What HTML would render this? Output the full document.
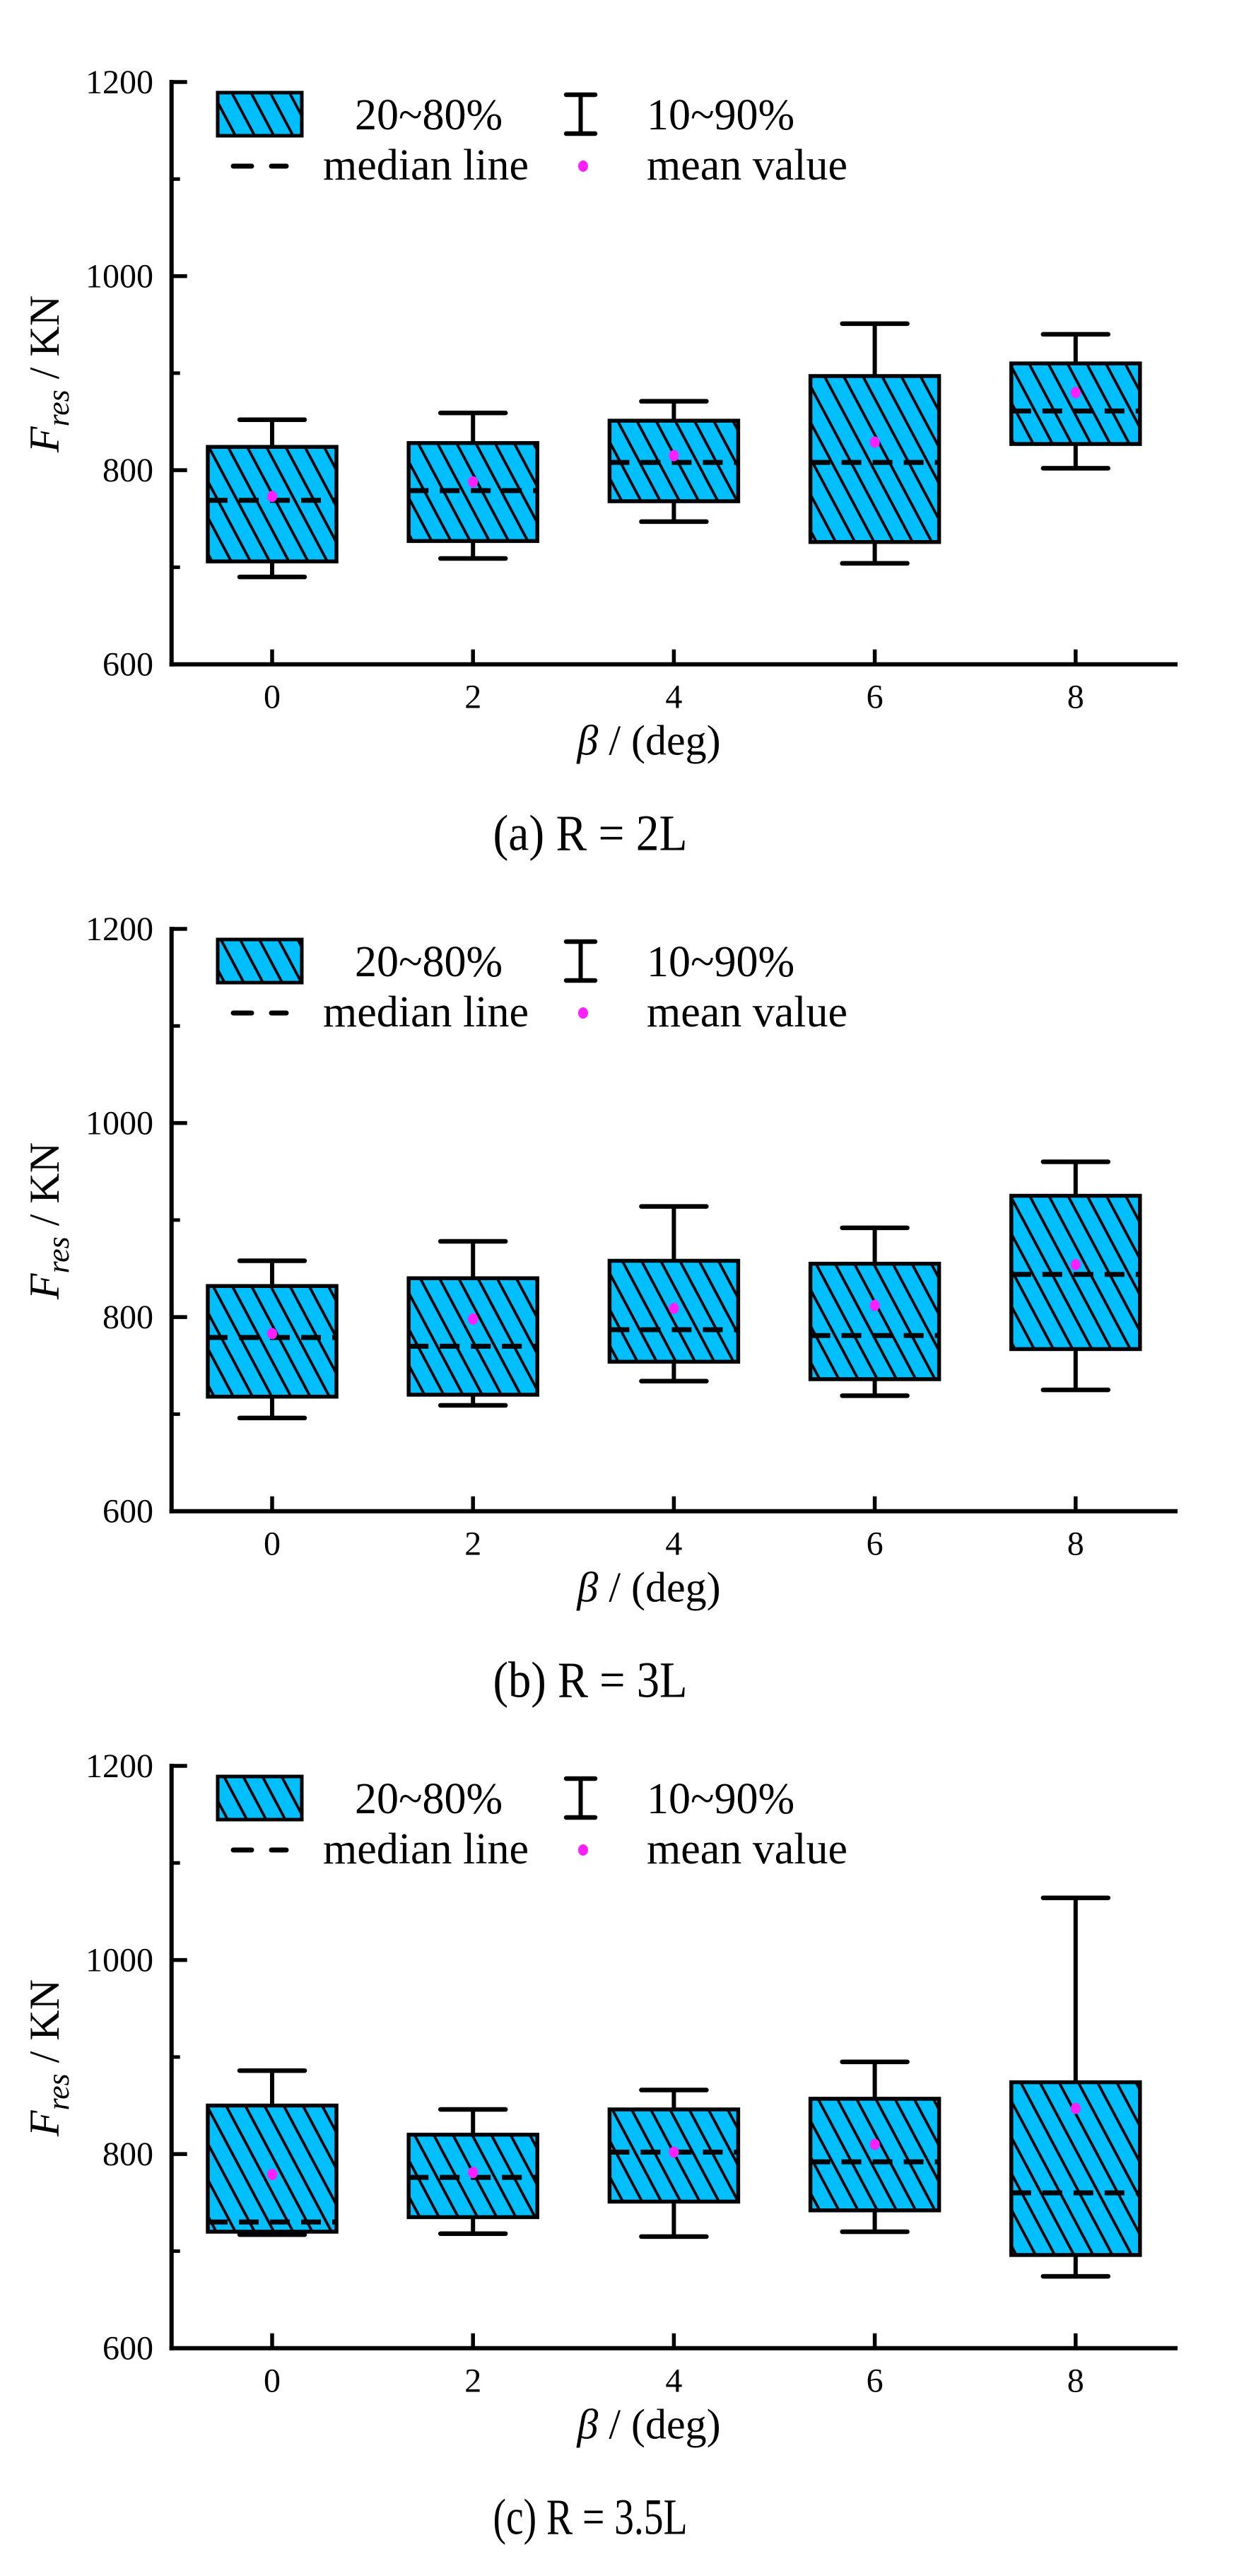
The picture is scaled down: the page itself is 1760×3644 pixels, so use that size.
<!DOCTYPE html>
<html><head><meta charset="utf-8"><style>
html,body{margin:0;padding:0;background:#fff;}
svg{display:block;font-family:"Liberation Serif","DejaVu Serif",serif;}
</style></head>
<body>
<svg id="chart" width="1760" height="3644" viewBox="0 0 1760 3644" xmlns="http://www.w3.org/2000/svg">
<defs>
<pattern id="hatch" patternUnits="userSpaceOnUse" width="24" height="24" patternTransform="rotate(-28)">
<rect width="24" height="24" fill="#00BFFF"/>
<line x1="12" y1="0" x2="12" y2="24" stroke="#000" stroke-width="3.8"/>
</pattern>
</defs>
</svg>
<script>
const categories = [0, 2, 4, 6, 8];
const yTicks = [600, 800, 1000, 1200];
const yMinor = [700, 900, 1100];
const captions = ["(a) R = 2L", "(b) R = 3L", "(c) R = 3.5L"];
// panel a
const aP10 = [690, 709, 747, 704, 802];
const aP20 = [706, 727, 768, 726, 827];
const aMed = [769, 779, 808, 808, 861];
const aP80 = [824, 828, 851, 897, 910];
const aP90 = [852, 859, 871, 951, 940];
const aMean = [773, 788, 815, 829, 880];
// panel b
const bP10 = [696, 709, 734, 719, 725];
const bP20 = [718, 720, 754, 736, 767];
const bMed = [779, 770, 787, 781, 844];
const bP80 = [832, 840, 858, 855, 925];
const bP90 = [858, 878, 914, 892, 960];
const bMean = [783, 798, 809, 812, 854];
// panel c
const cP10 = [717, 718, 715, 720, 674];
const cP20 = [720, 735, 751, 742, 696];
const cMed = [730, 776, 802, 792, 760];
const cP80 = [850, 820, 846, 857, 874];
const cP90 = [886, 846, 866, 895, 1064];
const cMean = [779, 781, 802, 810, 847];

const panels = [
  {top:116, p10:aP10, p20:aP20, med:aMed, p80:aP80, p90:aP90, mean:aMean, cap:captions[0], id:'a'},
  {top:1314, p10:bP10, p20:bP20, med:bMed, p80:bP80, p90:bP90, mean:bMean, cap:captions[1], id:'b'},
  {top:2498, p10:cP10, p20:cP20, med:cMed, p80:cP80, p90:cP90, mean:cMean, cap:captions[2], id:'c'}
];
const NS = "http://www.w3.org/2000/svg";
const svg = document.getElementById('chart');
const AX = 242.7, AXR = 1666, PH = 823.7;
function mk(tag, attrs, parent, text){
  const e = document.createElementNS(NS, tag);
  for (const k in attrs) e.setAttribute(k, attrs[k]);
  if (text !== undefined) e.textContent = text;
  parent.appendChild(e); return e;
}
function xs(v){ return 385 + (v - 0) * 142.1; }
panels.forEach(p => {
  const g = mk('g', {}, svg);
  
  
  const y0 = p.top + PH;
  const ys = v => y0 - (v - 600) * PH / 600;
  categories.forEach((c, i) => {
    const bg = mk('g', {}, g);
    
    
    const cx = xs(c), hw = 91, cw = 46;
    mk('line', {x1:cx, x2:cx, y1:ys(p.p90[i]), y2:ys(p.p80[i]), stroke:'#000','stroke-width':6}, bg);
    mk('line', {x1:cx, x2:cx, y1:ys(p.p20[i]), y2:ys(p.p10[i]), stroke:'#000','stroke-width':6}, bg);
    mk('line', {x1:cx-cw, x2:cx+cw, y1:ys(p.p90[i]), y2:ys(p.p90[i]), stroke:'#000','stroke-width':6.5,'stroke-linecap':'round'}, bg);
    mk('line', {x1:cx-cw, x2:cx+cw, y1:ys(p.p10[i]), y2:ys(p.p10[i]), stroke:'#000','stroke-width':6.5,'stroke-linecap':'round'}, bg);
    mk('rect', {x:cx-hw, y:ys(p.p80[i]), width:2*hw, height:ys(p.p20[i])-ys(p.p80[i]), fill:'url(#hatch)', stroke:'#000','stroke-width':5.5}, bg);
    mk('line', {x1:cx-hw, x2:cx+hw, y1:ys(p.med[i]), y2:ys(p.med[i]), stroke:'#000','stroke-width':7,'stroke-dasharray':'28 16'}, bg);
    mk('ellipse', {cx:cx, cy:ys(p.mean[i]), rx:7, ry:8, fill:'#FF1FFF'}, bg);
  });
  const axg = mk('g', {}, g);
  
  
  mk('line', {x1:AX, x2:AX, y1:p.top-3, y2:y0+3, stroke:'#000','stroke-width':6}, axg);
  mk('line', {x1:AX-3, x2:AXR, y1:y0, y2:y0, stroke:'#000','stroke-width':6}, axg);
  yTicks.forEach(t => {
    mk('line', {x1:AX, x2:AX+22, y1:ys(t), y2:ys(t), stroke:'#000','stroke-width':5.5}, axg);
    const tl = mk('text', {x:217, y:ys(t)+16, 'text-anchor':'end','font-size':48}, axg, String(t));
    
    
  });
  yMinor.forEach(t => {
    mk('line', {x1:AX, x2:AX+12, y1:ys(t), y2:ys(t), stroke:'#000','stroke-width':5}, axg);
  });
  categories.forEach(c => {
    mk('line', {x1:xs(c), x2:xs(c), y1:y0, y2:y0-21, stroke:'#000','stroke-width':5.5}, axg);
    const tl = mk('text', {x:xs(c), y:y0+62, 'text-anchor':'middle','font-size':48}, axg, String(c));
    
    
  });
  const xt = mk('text', {x:918, y:y0+128, 'text-anchor':'middle','font-size':60}, g);
  
  
  mk('tspan', {'font-style':'italic'}, xt, 'β');
  mk('tspan', {}, xt, ' / (deg)');
  const yt = mk('text', {x:0, y:0, 'text-anchor':'middle','font-size':60, transform:`translate(83,${p.top+413}) rotate(-90)`}, g);
  
  
  mk('tspan', {'font-style':'italic'}, yt, 'F');
  mk('tspan', {'font-style':'italic','font-size':44, dy:14}, yt, 'res');
  mk('tspan', {dy:-14}, yt, ' / KN');
  const cap = mk('text', {x:835, y:y0+263, 'text-anchor':'middle','font-size':72, textLength:275, lengthAdjust:'spacingAndGlyphs'}, g, p.cap);
  
  
  const lg = mk('g', {}, g);
  
  
  const T = p.top;
  mk('rect', {x:308, y:T+15, width:119, height:61, fill:'url(#hatch)', stroke:'#000','stroke-width':5}, lg);
  mk('text', {x:502, y:T+67, 'font-size':62}, lg, '20~80%');
  mk('line', {x1:821.5, x2:821.5, y1:T+18, y2:T+73, stroke:'#000','stroke-width':6}, lg);
  mk('line', {x1:801, x2:842, y1:T+18, y2:T+18, stroke:'#000','stroke-width':6.5,'stroke-linecap':'round'}, lg);
  mk('line', {x1:801, x2:842, y1:T+73, y2:T+73, stroke:'#000','stroke-width':6.5,'stroke-linecap':'round'}, lg);
  mk('text', {x:915, y:T+67, 'font-size':62}, lg, '10~90%');
  mk('line', {x1:330, x2:356, y1:T+119, y2:T+119, stroke:'#000','stroke-width':7,'stroke-linecap':'round'}, lg);
  mk('line', {x1:384, x2:405, y1:T+119, y2:T+119, stroke:'#000','stroke-width':7,'stroke-linecap':'round'}, lg);
  mk('text', {x:457, y:T+138, 'font-size':62}, lg, 'median line');
  mk('ellipse', {cx:825, cy:T+119, rx:7, ry:8, fill:'#FF1FFF'}, lg);
  mk('text', {x:915, y:T+138, 'font-size':62}, lg, 'mean value');
});
</script>
</body></html>
